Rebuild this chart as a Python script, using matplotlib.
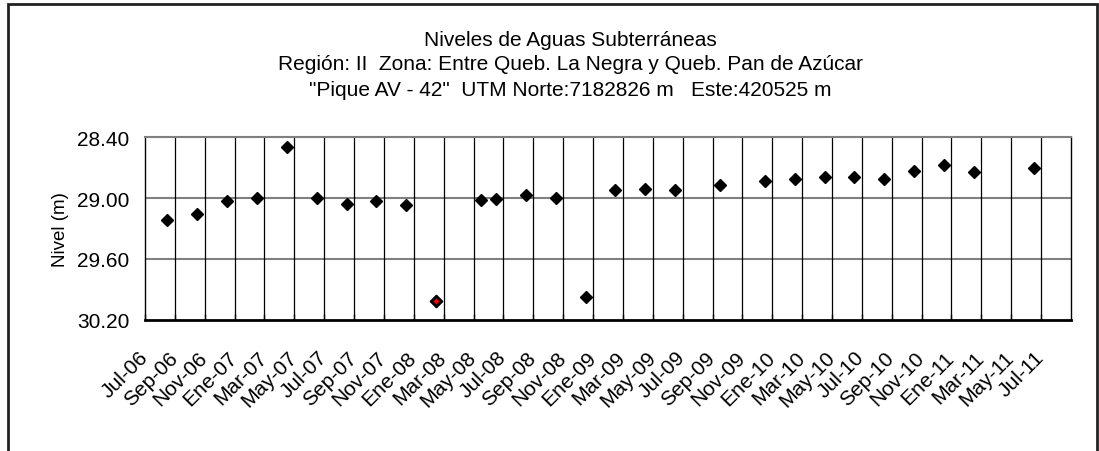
import numpy as np
import matplotlib.pyplot as plt
from matplotlib.patches import Rectangle
from matplotlib.transforms import ScaledTranslation

# Mediciones del pique (mes de medición y nivel en m)
fechas = ['2006-08', '2006-10', '2006-12', '2007-02', '2007-04', '2007-06',
          '2007-08', '2007-10', '2007-12', '2008-02', '2008-05', '2008-06',
          '2008-08', '2008-10', '2008-12', '2009-02', '2009-04', '2009-06',
          '2009-09', '2009-12', '2010-02', '2010-04', '2010-06', '2010-08',
          '2010-10', '2010-12', '2011-02', '2011-06']
niveles = [29.22, 29.16, 29.03, 29.00, 28.50, 29.00,
           29.06, 29.03, 29.07, 30.02, 29.02, 29.01,
           28.97, 29.00, 29.98, 28.92, 28.91, 28.92,
           28.87, 28.83, 28.81, 28.79, 28.79, 28.81,
           28.73, 28.67, 28.74, 28.70]
# medición marcada en rojo
fecha_roja = '2008-02'

etiquetas = ['Jul-06', 'Sep-06', 'Nov-06', 'Ene-07', 'Mar-07', 'May-07',
             'Jul-07', 'Sep-07', 'Nov-07', 'Ene-08', 'Mar-08', 'May-08',
             'Jul-08', 'Sep-08', 'Nov-08', 'Ene-09', 'Mar-09', 'May-09',
             'Jul-09', 'Sep-09', 'Nov-09', 'Ene-10', 'Mar-10', 'May-10',
             'Jul-10', 'Sep-10', 'Nov-10', 'Ene-11', 'Mar-11', 'May-11',
             'Jul-11']
yticks = [28.40, 29.00, 29.60, 30.20]


def mes_idx(f):
    a, m = f.split('-')
    return (int(a) - 2006) * 12 + int(m) - 7 + 0.5


plt.rcParams['font.family'] = ['Liberation Sans', 'DejaVu Sans']

fig = plt.figure(figsize=(10.99, 4.52), dpi=100)
ax = fig.add_axes([0.1319, 0.2905, 0.8426, 0.4035])

x = np.array([mes_idx(f) for f in fechas])
y = np.array(niveles)
ax.plot(x, y, 'D', color='black', ms=6.5, zorder=3)
i = fechas.index(fecha_roja)
ax.plot(x[i], y[i], 'D', mfc='red', mec='black', mew=2, ms=5.5, zorder=4)

ax.set_xlim(0, 62)
ax.set_ylim(30.20, 28.40)
ax.set_yticks(yticks)
ax.set_yticklabels(['%.2f' % v for v in yticks], fontsize=15)
xt = np.arange(0, 62, 2)
ax.set_xticks(xt)
ax.set_xticklabels(etiquetas, fontsize=15, rotation=45, ha='right', va='top',
                   rotation_mode='anchor')
ax.tick_params(axis='x', direction='in', length=4, pad=20, width=1)
ax.tick_params(axis='y', length=0, pad=11)

# correr las etiquetas de fecha un poco a la izquierda
desp = ScaledTranslation(-0.07, 0, fig.dpi_scale_trans)
for lbl in ax.get_xticklabels():
    lbl.set_transform(lbl.get_transform() + desp)

for v in yticks[1:-1]:
    ax.axhline(v, color='#808080', lw=1.5, zorder=1)
for v in xt[1:]:
    ax.axvline(v, color='black', lw=0.9, zorder=1)

ax.spines['top'].set_color('#808080')
ax.spines['top'].set_linewidth(1.5)
ax.spines['bottom'].set_linewidth(2)
ax.spines['left'].set_linewidth(1)
ax.spines['right'].set_linewidth(1)

ax.set_ylabel('Nivel (m)', fontsize=13.5, labelpad=6)

fig.text(0.519, 1 - 40 / 452, 'Niveles de Aguas Subterráneas', fontsize=15,
         ha='center', va='center')
fig.text(0.519, 1 - 65 / 452,
         'Región: II  Zona: Entre Queb. La Negra y Queb. Pan de Azúcar',
         fontsize=15, ha='center', va='center')
fig.text(0.519, 1 - 90 / 452,
         '"Pique AV - 42"  UTM Norte:7182826 m   Este:420525 m',
         fontsize=15, ha='center', va='center')

# marco del área del gráfico
fig.patches.append(Rectangle((7.5 / 1099, -0.1), (1097 - 7.5) / 1099, 1.1 - 5 / 452,
                             transform=fig.transFigure, fill=False,
                             edgecolor='#222222', lw=2))

plt.savefig('out.png', dpi=100)
